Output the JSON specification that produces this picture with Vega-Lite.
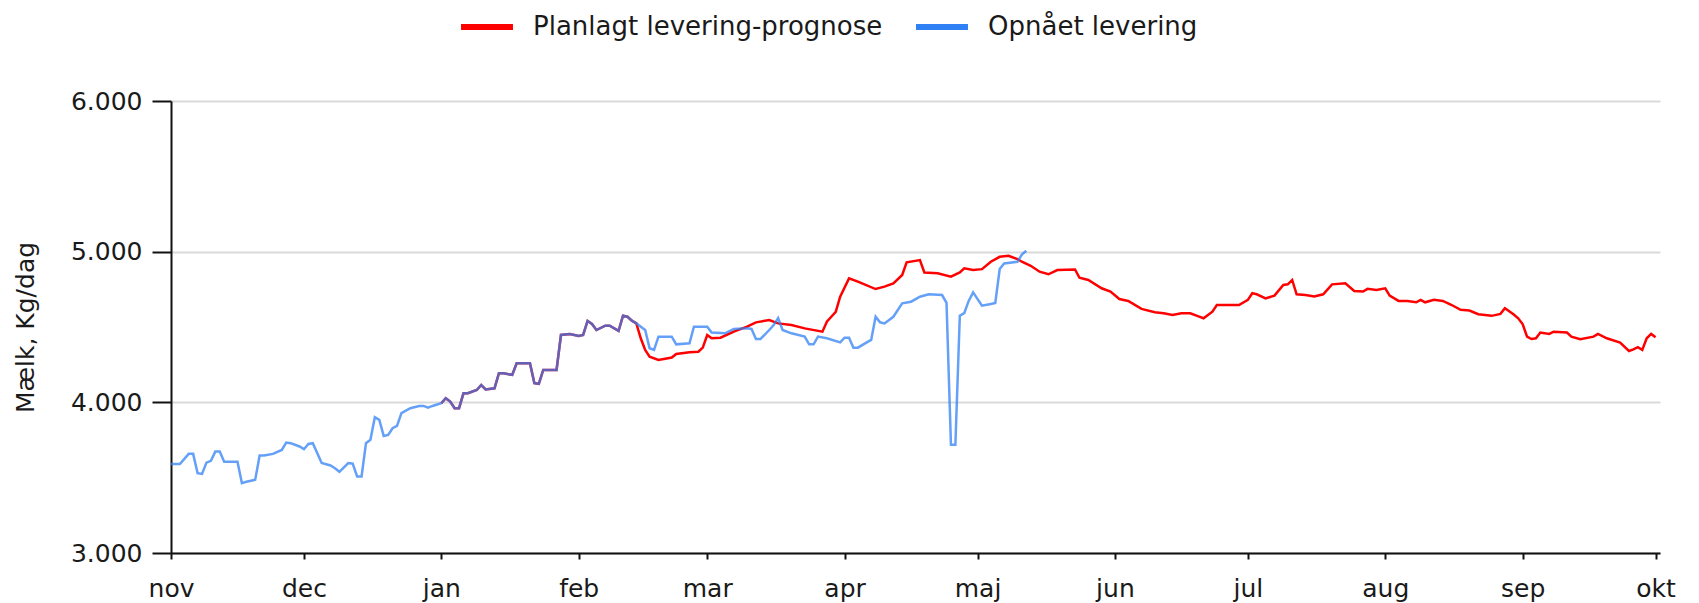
{
  "$schema": "https://vega.github.io/schema/vega-lite/v6.json",
  "width": 1489,
  "height": 452,
  "autosize": {"type": "none"},
  "padding": {"left": 171, "top": 101, "right": 39, "bottom": 50},
  "background": "white",
  "config": {
    "font": "DejaVu Sans",
    "view": {"stroke": null},
    "axis": {"labelFont": "DejaVu Sans", "titleFont": "DejaVu Sans", "labelColor": "#1a1a1a", "titleColor": "#1a1a1a", "domainColor": "#111", "tickColor": "#111"}
  },
  "datasets": {
    "opnaaet": [
      {"date": "2023-11-01", "value": 3590}, {"date": "2023-11-03", "value": 3590}, {"date": "2023-11-05", "value": 3658}, {"date": "2023-11-06", "value": 3658},
      {"date": "2023-11-07", "value": 3530}, {"date": "2023-11-08", "value": 3525}, {"date": "2023-11-09", "value": 3600}, {"date": "2023-11-10", "value": 3612},
      {"date": "2023-11-11", "value": 3673}, {"date": "2023-11-12", "value": 3673}, {"date": "2023-11-13", "value": 3605}, {"date": "2023-11-16", "value": 3605},
      {"date": "2023-11-17", "value": 3464}, {"date": "2023-11-18", "value": 3473}, {"date": "2023-11-20", "value": 3486}, {"date": "2023-11-21", "value": 3647},
      {"date": "2023-11-22", "value": 3647}, {"date": "2023-11-24", "value": 3658}, {"date": "2023-11-26", "value": 3684}, {"date": "2023-11-27", "value": 3733},
      {"date": "2023-11-28", "value": 3729}, {"date": "2023-11-30", "value": 3707}, {"date": "2023-12-01", "value": 3689}, {"date": "2023-12-02", "value": 3724},
      {"date": "2023-12-03", "value": 3729}, {"date": "2023-12-05", "value": 3597}, {"date": "2023-12-07", "value": 3581}, {"date": "2023-12-08", "value": 3563},
      {"date": "2023-12-09", "value": 3539}, {"date": "2023-12-11", "value": 3597}, {"date": "2023-12-12", "value": 3593}, {"date": "2023-12-13", "value": 3508},
      {"date": "2023-12-14", "value": 3508}, {"date": "2023-12-15", "value": 3729}, {"date": "2023-12-16", "value": 3751}, {"date": "2023-12-17", "value": 3901},
      {"date": "2023-12-18", "value": 3884}, {"date": "2023-12-19", "value": 3777}, {"date": "2023-12-20", "value": 3784}, {"date": "2023-12-21", "value": 3828},
      {"date": "2023-12-22", "value": 3843}, {"date": "2023-12-23", "value": 3928}, {"date": "2023-12-25", "value": 3961}, {"date": "2023-12-27", "value": 3976},
      {"date": "2023-12-28", "value": 3976}, {"date": "2023-12-29", "value": 3965}, {"date": "2023-12-30", "value": 3976}, {"date": "2024-01-01", "value": 3994},
      {"date": "2024-01-02", "value": 4027}, {"date": "2024-01-03", "value": 4005}, {"date": "2024-01-04", "value": 3961}, {"date": "2024-01-05", "value": 3961},
      {"date": "2024-01-06", "value": 4060}, {"date": "2024-01-07", "value": 4060}, {"date": "2024-01-09", "value": 4082}, {"date": "2024-01-10", "value": 4115},
      {"date": "2024-01-11", "value": 4086}, {"date": "2024-01-13", "value": 4093}, {"date": "2024-01-14", "value": 4193}, {"date": "2024-01-15", "value": 4193},
      {"date": "2024-01-17", "value": 4182}, {"date": "2024-01-18", "value": 4259}, {"date": "2024-01-21", "value": 4259}, {"date": "2024-01-22", "value": 4127},
      {"date": "2024-01-23", "value": 4123}, {"date": "2024-01-24", "value": 4215}, {"date": "2024-01-27", "value": 4215}, {"date": "2024-01-28", "value": 4447},
      {"date": "2024-01-30", "value": 4454}, {"date": "2024-02-01", "value": 4440}, {"date": "2024-02-02", "value": 4447}, {"date": "2024-02-03", "value": 4540},
      {"date": "2024-02-04", "value": 4520}, {"date": "2024-02-05", "value": 4480}, {"date": "2024-02-07", "value": 4509}, {"date": "2024-02-08", "value": 4509},
      {"date": "2024-02-10", "value": 4474}, {"date": "2024-02-11", "value": 4575}, {"date": "2024-02-12", "value": 4568}, {"date": "2024-02-13", "value": 4542},
      {"date": "2024-02-14", "value": 4524}, {"date": "2024-02-16", "value": 4480}, {"date": "2024-02-17", "value": 4359}, {"date": "2024-02-18", "value": 4348},
      {"date": "2024-02-19", "value": 4436}, {"date": "2024-02-22", "value": 4436}, {"date": "2024-02-23", "value": 4385}, {"date": "2024-02-26", "value": 4392},
      {"date": "2024-02-27", "value": 4502}, {"date": "2024-03-01", "value": 4502}, {"date": "2024-03-02", "value": 4464}, {"date": "2024-03-05", "value": 4458},
      {"date": "2024-03-07", "value": 4487}, {"date": "2024-03-10", "value": 4491}, {"date": "2024-03-11", "value": 4487}, {"date": "2024-03-12", "value": 4420},
      {"date": "2024-03-13", "value": 4420}, {"date": "2024-03-15", "value": 4480}, {"date": "2024-03-16", "value": 4513}, {"date": "2024-03-17", "value": 4560},
      {"date": "2024-03-18", "value": 4480}, {"date": "2024-03-20", "value": 4458}, {"date": "2024-03-23", "value": 4436}, {"date": "2024-03-24", "value": 4385},
      {"date": "2024-03-25", "value": 4385}, {"date": "2024-03-26", "value": 4436}, {"date": "2024-03-28", "value": 4425}, {"date": "2024-03-31", "value": 4398},
      {"date": "2024-04-01", "value": 4429}, {"date": "2024-04-02", "value": 4429}, {"date": "2024-04-03", "value": 4363}, {"date": "2024-04-04", "value": 4363},
      {"date": "2024-04-06", "value": 4398}, {"date": "2024-04-07", "value": 4414}, {"date": "2024-04-08", "value": 4568}, {"date": "2024-04-09", "value": 4531},
      {"date": "2024-04-10", "value": 4524}, {"date": "2024-04-12", "value": 4568}, {"date": "2024-04-14", "value": 4657}, {"date": "2024-04-16", "value": 4668},
      {"date": "2024-04-18", "value": 4701}, {"date": "2024-04-20", "value": 4717}, {"date": "2024-04-23", "value": 4712}, {"date": "2024-04-24", "value": 4660},
      {"date": "2024-04-25", "value": 3718}, {"date": "2024-04-26", "value": 3718}, {"date": "2024-04-27", "value": 4575}, {"date": "2024-04-28", "value": 4592},
      {"date": "2024-04-29", "value": 4673}, {"date": "2024-04-30", "value": 4730}, {"date": "2024-05-02", "value": 4642}, {"date": "2024-05-04", "value": 4653},
      {"date": "2024-05-05", "value": 4660}, {"date": "2024-05-06", "value": 4885}, {"date": "2024-05-07", "value": 4922}, {"date": "2024-05-10", "value": 4933},
      {"date": "2024-05-11", "value": 4980}, {"date": "2024-05-12", "value": 5006}
    ],
    "plan": [
      {"date": "2024-01-01", "value": 3994},
      {"date": "2024-01-02", "value": 4027}, {"date": "2024-01-03", "value": 4005}, {"date": "2024-01-04", "value": 3961}, {"date": "2024-01-05", "value": 3961},
      {"date": "2024-01-06", "value": 4060}, {"date": "2024-01-07", "value": 4060}, {"date": "2024-01-09", "value": 4082}, {"date": "2024-01-10", "value": 4115},
      {"date": "2024-01-11", "value": 4086}, {"date": "2024-01-13", "value": 4093}, {"date": "2024-01-14", "value": 4193}, {"date": "2024-01-15", "value": 4193},
      {"date": "2024-01-17", "value": 4182}, {"date": "2024-01-18", "value": 4259}, {"date": "2024-01-21", "value": 4259}, {"date": "2024-01-22", "value": 4127},
      {"date": "2024-01-23", "value": 4123}, {"date": "2024-01-24", "value": 4215}, {"date": "2024-01-27", "value": 4215}, {"date": "2024-01-28", "value": 4447},
      {"date": "2024-01-30", "value": 4454}, {"date": "2024-02-01", "value": 4440}, {"date": "2024-02-02", "value": 4447}, {"date": "2024-02-03", "value": 4540},
      {"date": "2024-02-04", "value": 4520}, {"date": "2024-02-05", "value": 4480}, {"date": "2024-02-07", "value": 4509}, {"date": "2024-02-08", "value": 4509},
      {"date": "2024-02-10", "value": 4474}, {"date": "2024-02-11", "value": 4575}, {"date": "2024-02-12", "value": 4568}, {"date": "2024-02-13", "value": 4542},
      {"date": "2024-02-14", "value": 4524}, {"date": "2024-02-15", "value": 4425}, {"date": "2024-02-16", "value": 4348}, {"date": "2024-02-17", "value": 4303},
      {"date": "2024-02-19", "value": 4281}, {"date": "2024-02-22", "value": 4297}, {"date": "2024-02-23", "value": 4321}, {"date": "2024-02-26", "value": 4332},
      {"date": "2024-02-28", "value": 4336}, {"date": "2024-02-29", "value": 4363}, {"date": "2024-03-01", "value": 4447}, {"date": "2024-03-02", "value": 4425},
      {"date": "2024-03-04", "value": 4429}, {"date": "2024-03-07", "value": 4469}, {"date": "2024-03-10", "value": 4502}, {"date": "2024-03-12", "value": 4531},
      {"date": "2024-03-15", "value": 4546}, {"date": "2024-03-17", "value": 4524}, {"date": "2024-03-20", "value": 4513}, {"date": "2024-03-23", "value": 4491},
      {"date": "2024-03-27", "value": 4469}, {"date": "2024-03-28", "value": 4535}, {"date": "2024-03-29", "value": 4568}, {"date": "2024-03-30", "value": 4601},
      {"date": "2024-03-31", "value": 4701}, {"date": "2024-04-02", "value": 4823}, {"date": "2024-04-04", "value": 4801}, {"date": "2024-04-08", "value": 4752},
      {"date": "2024-04-10", "value": 4768}, {"date": "2024-04-12", "value": 4790}, {"date": "2024-04-14", "value": 4845}, {"date": "2024-04-15", "value": 4929},
      {"date": "2024-04-18", "value": 4944}, {"date": "2024-04-19", "value": 4862}, {"date": "2024-04-22", "value": 4856}, {"date": "2024-04-25", "value": 4834},
      {"date": "2024-04-27", "value": 4862}, {"date": "2024-04-28", "value": 4889}, {"date": "2024-04-30", "value": 4878}, {"date": "2024-05-02", "value": 4884},
      {"date": "2024-05-04", "value": 4933}, {"date": "2024-05-06", "value": 4966}, {"date": "2024-05-08", "value": 4973}, {"date": "2024-05-10", "value": 4951},
      {"date": "2024-05-11", "value": 4933}, {"date": "2024-05-13", "value": 4906}, {"date": "2024-05-15", "value": 4867}, {"date": "2024-05-17", "value": 4850},
      {"date": "2024-05-19", "value": 4878}, {"date": "2024-05-23", "value": 4882}, {"date": "2024-05-24", "value": 4827}, {"date": "2024-05-26", "value": 4812},
      {"date": "2024-05-29", "value": 4757}, {"date": "2024-05-31", "value": 4735}, {"date": "2024-06-02", "value": 4686}, {"date": "2024-06-04", "value": 4673},
      {"date": "2024-06-07", "value": 4620}, {"date": "2024-06-10", "value": 4598}, {"date": "2024-06-12", "value": 4591}, {"date": "2024-06-14", "value": 4580},
      {"date": "2024-06-16", "value": 4591}, {"date": "2024-06-18", "value": 4591}, {"date": "2024-06-20", "value": 4569}, {"date": "2024-06-21", "value": 4558},
      {"date": "2024-06-23", "value": 4602}, {"date": "2024-06-24", "value": 4646}, {"date": "2024-06-29", "value": 4646}, {"date": "2024-07-01", "value": 4680},
      {"date": "2024-07-02", "value": 4724}, {"date": "2024-07-03", "value": 4717}, {"date": "2024-07-05", "value": 4690}, {"date": "2024-07-07", "value": 4708},
      {"date": "2024-07-09", "value": 4779}, {"date": "2024-07-10", "value": 4783}, {"date": "2024-07-11", "value": 4812}, {"date": "2024-07-12", "value": 4717},
      {"date": "2024-07-14", "value": 4713}, {"date": "2024-07-16", "value": 4702}, {"date": "2024-07-18", "value": 4717}, {"date": "2024-07-20", "value": 4783},
      {"date": "2024-07-23", "value": 4790}, {"date": "2024-07-25", "value": 4739}, {"date": "2024-07-27", "value": 4735}, {"date": "2024-07-28", "value": 4753},
      {"date": "2024-07-30", "value": 4746}, {"date": "2024-08-01", "value": 4757}, {"date": "2024-08-02", "value": 4708}, {"date": "2024-08-04", "value": 4673},
      {"date": "2024-08-06", "value": 4673}, {"date": "2024-08-08", "value": 4664}, {"date": "2024-08-09", "value": 4680}, {"date": "2024-08-10", "value": 4664},
      {"date": "2024-08-12", "value": 4680}, {"date": "2024-08-14", "value": 4673}, {"date": "2024-08-16", "value": 4646}, {"date": "2024-08-18", "value": 4614},
      {"date": "2024-08-20", "value": 4609}, {"date": "2024-08-22", "value": 4585}, {"date": "2024-08-25", "value": 4574}, {"date": "2024-08-27", "value": 4587},
      {"date": "2024-08-28", "value": 4624}, {"date": "2024-08-30", "value": 4583}, {"date": "2024-08-31", "value": 4558}, {"date": "2024-09-01", "value": 4520},
      {"date": "2024-09-02", "value": 4436}, {"date": "2024-09-03", "value": 4420}, {"date": "2024-09-04", "value": 4425}, {"date": "2024-09-05", "value": 4463},
      {"date": "2024-09-07", "value": 4454}, {"date": "2024-09-08", "value": 4469}, {"date": "2024-09-11", "value": 4463}, {"date": "2024-09-12", "value": 4436},
      {"date": "2024-09-14", "value": 4419}, {"date": "2024-09-17", "value": 4436}, {"date": "2024-09-18", "value": 4454}, {"date": "2024-09-20", "value": 4425},
      {"date": "2024-09-23", "value": 4397}, {"date": "2024-09-25", "value": 4341}, {"date": "2024-09-26", "value": 4352}, {"date": "2024-09-27", "value": 4366},
      {"date": "2024-09-28", "value": 4348}, {"date": "2024-09-29", "value": 4425}, {"date": "2024-09-30", "value": 4454}, {"date": "2024-10-01", "value": 4432}
    ]
  },
  "encoding": {
    "x": {
      "field": "date",
      "type": "temporal",
      "scale": {"type": "utc", "domain": [{"year": 2023, "month": 11, "date": 1, "utc": true}, {"year": 2024, "month": 10, "date": 2, "utc": true}]},
      "axis": {
        "title": null,
        "grid": false,
        "values": [
          {"year": 2023, "month": 11, "date": 1, "utc": true}, {"year": 2023, "month": 12, "date": 1, "utc": true},
          {"year": 2024, "month": 1, "date": 1, "utc": true}, {"year": 2024, "month": 2, "date": 1, "utc": true},
          {"year": 2024, "month": 3, "date": 1, "utc": true}, {"year": 2024, "month": 4, "date": 1, "utc": true},
          {"year": 2024, "month": 5, "date": 1, "utc": true}, {"year": 2024, "month": 6, "date": 1, "utc": true},
          {"year": 2024, "month": 7, "date": 1, "utc": true}, {"year": 2024, "month": 8, "date": 1, "utc": true},
          {"year": 2024, "month": 9, "date": 1, "utc": true}, {"year": 2024, "month": 10, "date": 1, "utc": true}
        ],
        "labelExpr": "['jan','feb','mar','apr','maj','jun','jul','aug','sep','okt','nov','dec'][utcmonth(datum.value)]",
        "labelFontSize": 25,
        "labelFlush": false,
        "labelOverlap": false,
        "labelPadding": 17,
        "tickSize": 6,
        "tickWidth": 2,
        "domainWidth": 2
      }
    },
    "y": {
      "field": "value",
      "type": "quantitative",
      "scale": {"domain": [3000, 6000], "nice": false, "zero": false},
      "axis": {
        "title": "Mælk, Kg/dag",
        "titleFontSize": 25,
        "titleFontWeight": "normal",
        "titlePadding": 32,
        "values": [3000, 4000, 5000, 6000],
        "labelExpr": "replace(format(datum.value, ','), ',', '.')",
        "labelFontSize": 25,
        "labelPadding": 10,
        "tickSize": 19,
        "tickWidth": 2,
        "domainWidth": 2,
        "grid": true,
        "gridColor": "#d9d9d9",
        "gridWidth": 2
      }
    }
  },
  "layer": [
    {
      "data": {"name": "plan"},
      "mark": {"type": "line", "strokeWidth": 2.5},
      "encoding": {
        "color": {
          "datum": "Planlagt levering-prognose",
          "type": "nominal",
          "scale": {"domain": ["Planlagt levering-prognose", "Opnået levering"], "range": ["#ff0000", "#3080f5"]},
          "legend": {
            "orient": "none",
            "legendX": 287,
            "legendY": -103,
            "direction": "horizontal",
            "title": null,
            "padding": 0,
            "symbolType": "stroke",
            "symbolStrokeWidth": 6,
            "symbolSize": 2700,
            "labelFontSize": 26,
            "labelFont": "DejaVu Sans",
            "labelColor": "#1a1a1a",
            "labelLimit": 0,
            "labelOffset": 17,
            "columnPadding": 21
          }
        }
      }
    },
    {
      "data": {"name": "opnaaet"},
      "mark": {"type": "line", "strokeWidth": 2.5, "strokeOpacity": 0.75},
      "encoding": {
        "color": {"datum": "Opnået levering", "type": "nominal"}
      }
    }
  ]
}
